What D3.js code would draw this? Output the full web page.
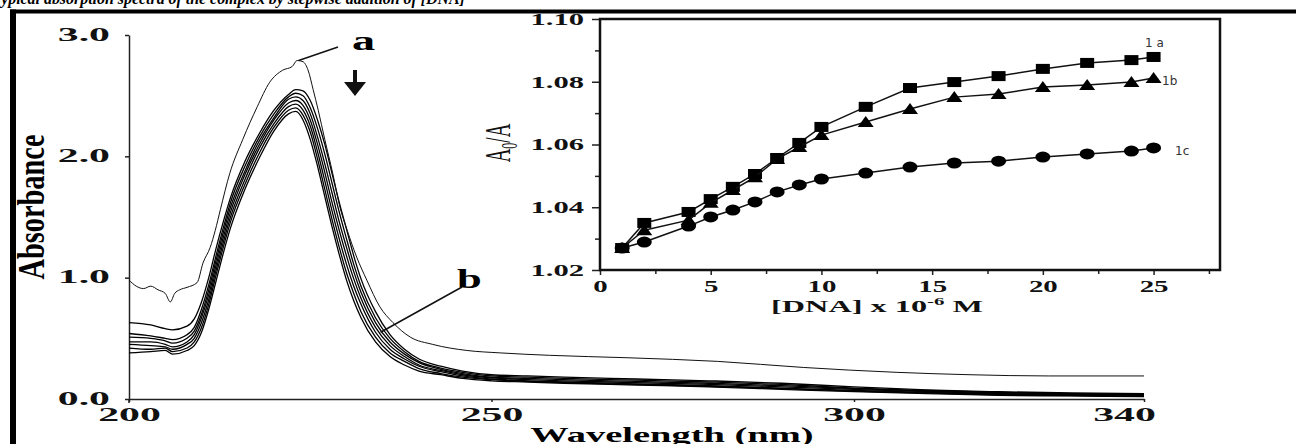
<!DOCTYPE html>
<html>
<head>
<meta charset="utf-8">
<script src="https://cdn.jsdelivr.net/npm/d3@7"></script>
<style>
  body { margin: 0; background: #fff; }
  svg { display: block; }
</style>
</head>
<body>
<svg id="chart" width="1296" height="444"></svg>
<script>
// ---- main panel: absorbance spectra ----
var wavelength = [200, 203, 205, 206, 208, 209, 210, 211, 212, 213, 214, 216, 218, 220, 222, 223, 224, 225, 226, 227, 228, 229, 230, 231, 232, 234, 236, 238, 240, 243, 246, 250, 255, 260, 270, 280, 290, 300, 310, 320, 330, 340];
var absB1 = [0.63, 0.61, 0.58, 0.57, 0.60, 0.66, 0.80, 1.00, 1.24, 1.46, 1.66, 1.96, 2.19, 2.38, 2.51, 2.55, 2.54, 2.46, 2.30, 2.10, 1.86, 1.62, 1.40, 1.18, 0.99, 0.72, 0.53, 0.41, 0.33, 0.27, 0.23, 0.20, 0.19, 0.18, 0.165, 0.15, 0.13, 0.10, 0.075, 0.06, 0.05, 0.045];
var absB2 = [0.54, 0.52, 0.50, 0.49, 0.53, 0.59, 0.74, 0.94, 1.18, 1.41, 1.62, 1.92, 2.16, 2.35, 2.49, 2.52, 2.50, 2.40, 2.23, 2.02, 1.78, 1.54, 1.32, 1.11, 0.93, 0.67, 0.50, 0.39, 0.31, 0.255, 0.22, 0.19, 0.18, 0.17, 0.155, 0.14, 0.12, 0.09, 0.07, 0.055, 0.045, 0.04];
var absB3 = [0.51, 0.50, 0.48, 0.46, 0.50, 0.56, 0.70, 0.90, 1.14, 1.37, 1.58, 1.88, 2.13, 2.32, 2.47, 2.49, 2.46, 2.35, 2.16, 1.94, 1.70, 1.46, 1.25, 1.05, 0.88, 0.63, 0.47, 0.37, 0.30, 0.245, 0.21, 0.18, 0.17, 0.16, 0.145, 0.13, 0.11, 0.085, 0.065, 0.05, 0.04, 0.035];
var absB4 = [0.47, 0.47, 0.45, 0.43, 0.47, 0.53, 0.67, 0.86, 1.10, 1.33, 1.54, 1.85, 2.10, 2.30, 2.44, 2.46, 2.42, 2.30, 2.10, 1.87, 1.62, 1.39, 1.18, 0.99, 0.83, 0.59, 0.44, 0.35, 0.28, 0.235, 0.20, 0.175, 0.16, 0.15, 0.135, 0.12, 0.10, 0.08, 0.06, 0.045, 0.035, 0.03];
var absB5 = [0.45, 0.44, 0.43, 0.41, 0.45, 0.50, 0.63, 0.82, 1.06, 1.29, 1.50, 1.81, 2.07, 2.27, 2.41, 2.43, 2.38, 2.25, 2.04, 1.80, 1.55, 1.32, 1.11, 0.93, 0.78, 0.55, 0.41, 0.33, 0.27, 0.225, 0.19, 0.165, 0.15, 0.14, 0.125, 0.11, 0.09, 0.07, 0.055, 0.04, 0.03, 0.025];
var absB6 = [0.42, 0.41, 0.42, 0.39, 0.42, 0.47, 0.59, 0.78, 1.02, 1.25, 1.46, 1.77, 2.03, 2.24, 2.38, 2.40, 2.34, 2.20, 1.98, 1.73, 1.48, 1.25, 1.04, 0.87, 0.72, 0.51, 0.38, 0.31, 0.25, 0.21, 0.18, 0.16, 0.145, 0.135, 0.12, 0.105, 0.085, 0.065, 0.05, 0.035, 0.028, 0.022];
var absB7 = [0.38, 0.39, 0.40, 0.37, 0.40, 0.44, 0.55, 0.74, 0.97, 1.20, 1.41, 1.73, 1.99, 2.21, 2.35, 2.37, 2.30, 2.14, 1.92, 1.67, 1.42, 1.19, 0.98, 0.81, 0.67, 0.47, 0.35, 0.28, 0.23, 0.20, 0.17, 0.15, 0.14, 0.13, 0.115, 0.10, 0.08, 0.06, 0.045, 0.03, 0.025, 0.02];

// curve a (free complex) has its own noisy sampling
var curveAWl = [200, 201, 202, 203, 204, 205, 205.7, 206.3, 207, 208, 209.4, 210.2, 211.2, 211.9, 212.6, 213.9, 215.7, 217.7, 219.4, 221.2, 222.5, 223.2, 224.0, 224.7, 225.4, 226.1, 227.0, 228.1, 229.1, 230.1, 231.4, 232.8, 234.6, 236.4, 238.8, 241.9, 246.6, 251.2, 258, 268.7, 281.2, 293, 305.8, 316, 326.8, 340];
var curveAAbs = [0.98, 0.93, 0.91, 0.93, 0.90, 0.87, 0.80, 0.87, 0.90, 0.92, 0.96, 1.12, 1.25, 1.39, 1.56, 1.86, 2.14, 2.41, 2.61, 2.71, 2.74, 2.79, 2.78, 2.71, 2.55, 2.38, 2.14, 1.86, 1.58, 1.39, 1.17, 0.98, 0.76, 0.63, 0.51, 0.45, 0.40, 0.38, 0.36, 0.34, 0.31, 0.26, 0.22, 0.20, 0.19, 0.19];

var mainXTicks = [200, 250, 300, 340];
var mainYTicks = [0, 1, 2, 3];

// ---- inset: A0/A vs [DNA] ----
var conc = [1, 2, 4, 5, 6, 7, 8, 9, 10, 12, 14, 16, 18, 20, 22, 24, 25];
var ratio1a = [1.0270, 1.0350, 1.0385, 1.0426, 1.0465, 1.0506, 1.0557, 1.0605, 1.0656, 1.0720, 1.0780, 1.0799, 1.0818, 1.0841, 1.0860, 1.0869, 1.0879];
var ratio1b = [1.0270, 1.0327, 1.0359, 1.0414, 1.0455, 1.0496, 1.0554, 1.0592, 1.0630, 1.0672, 1.0713, 1.0751, 1.0761, 1.0783, 1.0790, 1.0799, 1.0812];
var ratio1c = [1.0270, 1.0289, 1.0340, 1.0369, 1.0391, 1.0417, 1.0449, 1.0471, 1.0490, 1.0509, 1.0528, 1.0541, 1.0547, 1.0560, 1.0570, 1.0579, 1.0589];
var insetXTicks = [0, 5, 10, 15, 20, 25];
var insetXMinor = [2.5, 7.5, 12.5, 17.5, 22.5, 27.5];
var insetYTicks = [1.02, 1.04, 1.06, 1.08, 1.10];
var insetYMinor = [1.03, 1.05, 1.07, 1.09];

var serif = "'Liberation Serif', 'Times New Roman', serif";
var svg = d3.select('#chart');

svg.append('rect').attr('width', 1296).attr('height', 444).attr('fill', '#fff');

// stretch tick labels horizontally, like the squashed original figure
function stretchTicks(g, sx) {
  g.selectAll('text').each(function () {
    var t = d3.select(this);
    var x = +t.attr('x') || 0;
    t.attr('x', x / sx).attr('transform', 'scale(' + sx + ',1)');
  });
}

// ================= main panel =================
var x = d3.scaleLinear().domain([200, 340]).range([129, 1144]);
var y = d3.scaleLinear().domain([0, 3]).range([399, 35]);

var yAxis = svg.append('g')
  .attr('transform', 'translate(' + x(200) + ',0)')
  .call(d3.axisLeft(y).tickValues(mainYTicks).tickFormat(d3.format('.1f')).tickSize(4).tickSizeOuter(0).tickPadding(15))
  .attr('font-family', serif).attr('font-size', 19).attr('font-weight', 'bold');
yAxis.selectAll('path, line').attr('stroke', '#222').attr('stroke-width', 1.5);
yAxis.selectAll('text').attr('fill', '#111').attr('dy', '0.28em');
stretchTicks(yAxis, 2.2);

var xAxis = svg.append('g')
  .attr('transform', 'translate(0,' + y(0) + ')')
  .call(d3.axisBottom(x).tickValues(mainXTicks).tickSize(3).tickSizeOuter(0).tickPadding(6))
  .attr('font-family', serif).attr('font-size', 19).attr('font-weight', 'bold');
xAxis.selectAll('path, line').attr('stroke', '#222').attr('stroke-width', 1.5);
xAxis.selectAll('text').attr('fill', '#111');
stretchTicks(xAxis, 2.2);
// the 340 label sits a little left of the axis end in the original
xAxis.selectAll('.tick').filter(function (d) { return d === 340; }).select('text').attr('x', -20 / 2.2);

// y axis runs a touch below the x axis
svg.append('line')
  .attr('x1', x(200)).attr('x2', x(200))
  .attr('y1', y(0)).attr('y2', y(0) + 4)
  .attr('stroke', '#222').attr('stroke-width', 1.5);

var line = d3.line()
  .x(function (d) { return x(d[0]); })
  .y(function (d) { return y(d[1]); })
  .curve(d3.curveMonotoneX);

var bundle = [absB1, absB2, absB3, absB4, absB5, absB6, absB7];
svg.selectAll('.spectrum')
  .data(bundle).enter()
  .append('path')
  .attr('class', 'spectrum')
  .attr('fill', 'none')
  .attr('stroke', '#000')
  .attr('stroke-width', 1.3)
  .attr('d', function (vals) {
    return line(wavelength.map(function (w, i) { return [w, vals[i]]; }));
  });

svg.append('path')
  .attr('fill', 'none')
  .attr('stroke', '#111')
  .attr('stroke-width', 1)
  .attr('d', line(curveAWl.map(function (w, i) { return [w, curveAAbs[i]]; })));

// annotations a / b and arrow
svg.append('line')
  .attr('x1', x(223.4)).attr('y1', y(2.79))
  .attr('x2', 338).attr('y2', 47)
  .attr('stroke', '#111').attr('stroke-width', 1.5);
svg.append('g').attr('transform', 'translate(352,50) scale(1.65,1)')
  .append('text').attr('font-family', serif).attr('font-weight', 'bold')
  .attr('font-size', 28).text('a');

svg.append('line')
  .attr('x1', 462).attr('y1', 287)
  .attr('x2', x(234.7)).attr('y2', y(0.55))
  .attr('stroke', '#111').attr('stroke-width', 1.5);
svg.append('g').attr('transform', 'translate(457,288) scale(1.65,1)')
  .append('text').attr('font-family', serif).attr('font-weight', 'bold')
  .attr('font-size', 27).text('b');

svg.append('rect').attr('x', 353).attr('y', 70).attr('width', 4).attr('height', 14).attr('fill', '#111');
svg.append('path').attr('d', 'M344,82L366,82L355,96Z').attr('fill', '#111');

// axis titles
svg.append('g').attr('transform', 'translate(31,207) scale(1.35,1) rotate(-90)')
  .append('text')
  .attr('text-anchor', 'middle').attr('dy', '0.35em')
  .attr('font-family', serif).attr('font-weight', 'bold').attr('font-size', 28)
  .attr('textLength', 145).attr('lengthAdjust', 'spacingAndGlyphs')
  .text('Absorbance');

svg.append('g').attr('transform', 'translate(672,442) scale(1.75,1)')
  .append('text')
  .attr('text-anchor', 'middle')
  .attr('font-family', serif).attr('font-weight', 'bold').attr('font-size', 22)
  .text('Wavelength (nm)');

// ================= inset =================
var ix = d3.scaleLinear().domain([0, 28]).range([600, 1220]);
var iy = d3.scaleLinear().domain([1.02, 1.10]).range([270, 19]);

svg.append('rect')
  .attr('x', ix(0)).attr('y', iy(1.10))
  .attr('width', ix(28) - ix(0)).attr('height', iy(1.02) - iy(1.10))
  .attr('fill', '#fff');

var iyAxis = svg.append('g')
  .attr('transform', 'translate(' + ix(0) + ',0)')
  .call(d3.axisLeft(iy).tickValues(insetYTicks).tickFormat(d3.format('.2f')).tickSize(8).tickSizeOuter(0).tickPadding(8))
  .attr('font-family', serif).attr('font-size', 17).attr('font-weight', 'bold');
iyAxis.select('.domain').remove();
iyAxis.selectAll('line').attr('stroke', '#222').attr('stroke-width', 1.5);
iyAxis.selectAll('text').attr('fill', '#111');
stretchTicks(iyAxis, 1.8);

var iyMinor = svg.append('g')
  .attr('transform', 'translate(' + ix(0) + ',0)')
  .call(d3.axisLeft(iy).tickValues(insetYMinor).tickFormat('').tickSize(5).tickSizeOuter(0));
iyMinor.select('.domain').remove();
iyMinor.selectAll('line').attr('stroke', '#222').attr('stroke-width', 1.5);

var ixAxis = svg.append('g')
  .attr('transform', 'translate(0,' + iy(1.02) + ')')
  .call(d3.axisBottom(ix).tickValues(insetXTicks).tickSize(5).tickSizeOuter(0).tickPadding(5))
  .attr('font-family', serif).attr('font-size', 17).attr('font-weight', 'bold');
ixAxis.select('.domain').remove();
ixAxis.selectAll('line').attr('stroke', '#222').attr('stroke-width', 1.5);
ixAxis.selectAll('text').attr('fill', '#111');
stretchTicks(ixAxis, 1.7);

var ixMinor = svg.append('g')
  .attr('transform', 'translate(0,' + iy(1.02) + ')')
  .call(d3.axisBottom(ix).tickValues(insetXMinor).tickFormat('').tickSize(4).tickSizeOuter(0));
ixMinor.select('.domain').remove();
ixMinor.selectAll('line').attr('stroke', '#222').attr('stroke-width', 1.5);

svg.append('rect')
  .attr('x', ix(0)).attr('y', iy(1.10))
  .attr('width', ix(28) - ix(0)).attr('height', iy(1.02) - iy(1.10))
  .attr('fill', 'none').attr('stroke', '#111').attr('stroke-width', 2.5);

var iline = d3.line()
  .x(function (d) { return ix(d[0]); })
  .y(function (d) { return iy(d[1]); });

var insetSeries = [
  { name: '1a', vals: ratio1a, shape: 'square' },
  { name: '1b', vals: ratio1b, shape: 'triangle' },
  { name: '1c', vals: ratio1c, shape: 'circle' }
];

insetSeries.forEach(function (s) {
  var pts = conc.map(function (c, i) { return [c, s.vals[i]]; });
  svg.append('path')
    .attr('fill', 'none').attr('stroke', '#111').attr('stroke-width', 1.5)
    .attr('d', iline(pts));
  var g = svg.append('g');
  pts.forEach(function (p) {
    var px = ix(p[0]), py = iy(p[1]);
    if (s.shape === 'square') {
      g.append('rect').attr('x', px - 7).attr('y', py - 5).attr('width', 14).attr('height', 10).attr('fill', '#000');
    } else if (s.shape === 'triangle') {
      g.append('path').attr('d', 'M' + (px - 8) + ',' + (py + 5) + 'L' + (px + 8) + ',' + (py + 5) + 'L' + px + ',' + (py - 6) + 'Z').attr('fill', '#000');
    } else {
      g.append('ellipse').attr('cx', px).attr('cy', py).attr('rx', 7.5).attr('ry', 5.5).attr('fill', '#000');
    }
  });
});

// series tags
svg.append('text').attr('x', 1145).attr('y', 47).attr('font-family', 'DejaVu Sans, sans-serif').attr('font-size', 12).attr('fill', '#333').text('1 a');
svg.append('text').attr('x', 1162).attr('y', 85).attr('font-family', 'DejaVu Sans, sans-serif').attr('font-size', 12).attr('fill', '#333').text('1b');
svg.append('text').attr('x', 1175).attr('y', 155).attr('font-family', 'DejaVu Sans, sans-serif').attr('font-size', 12).attr('fill', '#333').text('1c');

// inset titles
var a0 = svg.append('g').attr('transform', 'translate(497,143) scale(1.9,1) rotate(-90)')
  .append('text')
  .attr('text-anchor', 'middle').attr('dy', '0.35em')
  .attr('font-family', serif).attr('font-size', 19).attr('fill', '#111');
a0.append('tspan').text('A');
a0.append('tspan').attr('font-size', 12).attr('dy', 4).text('0');
a0.append('tspan').attr('dy', -4).text('/A');

var dna = svg.append('g').attr('transform', 'translate(877,312) scale(1.9,1)')
  .append('text')
  .attr('text-anchor', 'middle')
  .attr('font-family', serif).attr('font-size', 17).attr('font-weight', 'bold').attr('fill', '#111');
dna.append('tspan').text('[DNA] x 10');
dna.append('tspan').attr('font-size', 11).attr('dy', -7).text('-6');
dna.append('tspan').attr('dy', 7).text(' M');

// ================= page frame =================
svg.append('text')
  .attr('x', -8).attr('y', 4)
  .attr('font-family', serif).attr('font-weight', 'bold').attr('font-style', 'italic').attr('font-size', 17)
  .attr('textLength', 473).attr('lengthAdjust', 'spacingAndGlyphs')
  .text('Typical absorption spectra of the complex by stepwise addition of [DNA]');
svg.append('rect').attr('x', 10).attr('y', 9.5).attr('width', 1286).attr('height', 4).attr('fill', '#000');
svg.append('rect').attr('x', 10).attr('y', 9.5).attr('width', 6).attr('height', 435).attr('fill', '#000');
</script>
</body>
</html>
